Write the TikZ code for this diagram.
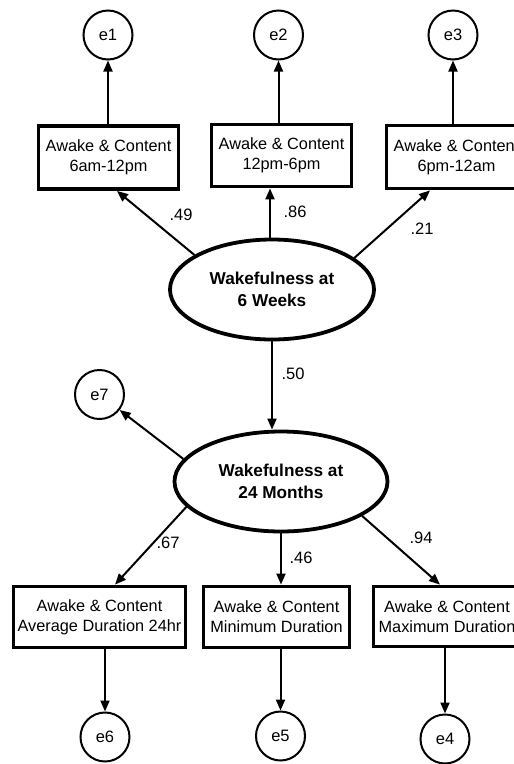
\documentclass[tikz,border=0pt]{standalone}
\usepackage{fontspec}
\setmainfont{Liberation Sans}
\usetikzlibrary{shapes.geometric,arrows.meta}
\tikzset{
  err/.style={circle, draw, line width=2pt, minimum size=49pt, inner sep=0pt, font=\fontsize{16.5}{19}\selectfont},
  obs/.style={rectangle, draw, line width=3.8pt, inner sep=0pt, align=center, font=\fontsize{16.3}{20}\selectfont},
  lat/.style={ellipse, draw, line width=3.8pt, inner sep=0pt, align=center, font=\bfseries\fontsize{17.2}{21.5}\selectfont},
  pth/.style={line width=2pt, -{Triangle[length=11pt,width=9pt]}},
  coef/.style={font=\fontsize{16.5}{19}\selectfont, inner sep=0pt}
}
\begin{document}
\begin{tikzpicture}[x=1pt,y=-1pt]
\useasboundingbox (0,0) rectangle (514,764);
% error terms
\node[err] (e1) at (108,35) {e1};
\node[err] (e2) at (278.5,35) {e2};
\node[err] (e3) at (453,35) {e3};
\node[err] (e7) at (99.5,394.5) {e7};
\node[err] (e6) at (105,737) {e6};
\node[err] (e5) at (280.5,736) {e5};
\node[err] (e4) at (445,739) {e4};
% observed
\node[obs, minimum width=140pt, minimum height=63pt] (b1) at (108.5,157.5) {Awake \& Content\\6am-12pm};
\node[obs, minimum width=140pt, minimum height=62pt] (b2) at (281.5,155.5) {Awake \& Content\\12pm-6pm};
\node[obs, minimum width=140pt, minimum height=63pt] (b3) at (456.5,157) {Awake \& Content\\6pm-12am};
\node[obs, minimum width=172pt, minimum height=61pt] (b4) at (99.5,617) {Awake \& Content\\Average Duration 24hr};
\node[obs, minimum width=146pt, minimum height=61pt] (b5) at (276.5,617) {Awake \& Content\\Minimum Duration};
\node[obs, minimum width=147pt, minimum height=60pt] (b6) at (447,616.5) {Awake \& Content\\Maximum Duration};
% latent
\node[lat, minimum width=204pt, minimum height=100pt] (l1) at (272,289.5) {Wakefulness at\\6 Weeks};
\node[lat, minimum width=213pt, minimum height=100pt] (l2) at (281,481.5) {Wakefulness at\\24 Months};
% paths top
\draw[pth] (b1.north -| e1) -- (e1);
\draw[pth] (b2.north -| e2) -- (e2);
\draw[pth] (b3.north -| e3) -- (e3);
\draw[pth] (l1.156) -- ([xshift=8.5pt]b1.south);
\draw[pth] ([xshift=-2pt]l1.north) -- ([xshift=-11.5pt]b2.south);
\draw[pth] (l1.21) -- ([xshift=-26.5pt]b3.south);
\draw[pth] (l1.south) -- (l1.south |- l2.north);
\draw[pth] (l2.167) -- (e7);
% paths bottom
\draw[pth] (l2.195) -- ([xshift=15.5pt]b4.north);
\draw[pth] (l2.south) -- (l2.south |- b5.north);
\draw[pth] (l2.-23) -- ([xshift=-7pt]b6.north);
\draw[pth] (b4.south -| e6) -- (e6);
\draw[pth] (b5.south -| e5) -- (e5);
\draw[pth] (b6.south -| e4) -- (e4);
% coefficients
\node[coef] (c49) at (181,215) {.49};
\node[coef] (c86) at (295,212) {.86};
\node[coef] (c21) at (422,229) {.21};
\node[coef] (c50) at (293,374) {.50};
\node[coef] (c67) at (168,543) {.67};
\node[coef] (c46) at (301,558) {.46};
\node[coef] (c94) at (421,538) {.94};
\end{tikzpicture}
\end{document}
